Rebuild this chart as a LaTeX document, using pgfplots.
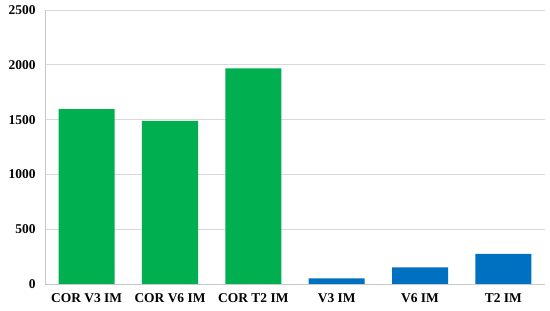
\documentclass[border=0pt]{standalone}
\usepackage{fontspec}
\setmainfont{Liberation Serif}
\usepackage{pgfplots}
\pgfplotsset{compat=1.18}
\definecolor{corgreen}{HTML}{00B050}
\definecolor{imblue}{HTML}{0070C0}
\definecolor{gridgray}{HTML}{D9D9D9}
\definecolor{axisgray}{HTML}{C8C8C8}
\begin{document}
\begin{tikzpicture}
\begin{axis}[
    scale only axis,
    width=500bp, height=274bp,
    ybar, bar width=56bp,
    xmin=-0.5, xmax=5.5,
    ymin=0, ymax=2500,
    ytick={0,500,1000,1500,2000,2500},
    xtick={0,1,2,3,4,5},
    xticklabels={COR V3 IM, COR V6 IM, COR T2 IM, V3 IM, V6 IM, T2 IM},
    ymajorgrids,
    grid style={draw=gridgray, line width=0.8bp},
    axis x line*=bottom, axis y line*=left,
    axis line style={draw=axisgray, line width=0.8bp, -},
    major tick length=0pt,
    tick label style={font=\fontsize{13.5}{16}\selectfont\bfseries},
    yticklabel style={xshift=-6bp},
    xticklabel style={yshift=-6bp},
    /pgf/number format/assume math mode=true,
    /pgf/number format/1000 sep={},
]
% COR series
\addplot[fill=corgreen, draw=none, bar shift=0pt] coordinates {
    (0,1595) (1,1488) (2,1968)
};
% IM series
\addplot[fill=imblue, draw=none, bar shift=0pt] coordinates {
    (3,52) (4,152) (5,276)
};
\coordinate (sw) at (rel axis cs:0,0);
\coordinate (ne) at (rel axis cs:1,1);
\end{axis}
\pgfresetboundingbox
\path[use as bounding box] ([shift={(-45bp,-27bp)}]sw) rectangle ([shift={(5bp,10bp)}]ne);
\end{tikzpicture}
\end{document}
